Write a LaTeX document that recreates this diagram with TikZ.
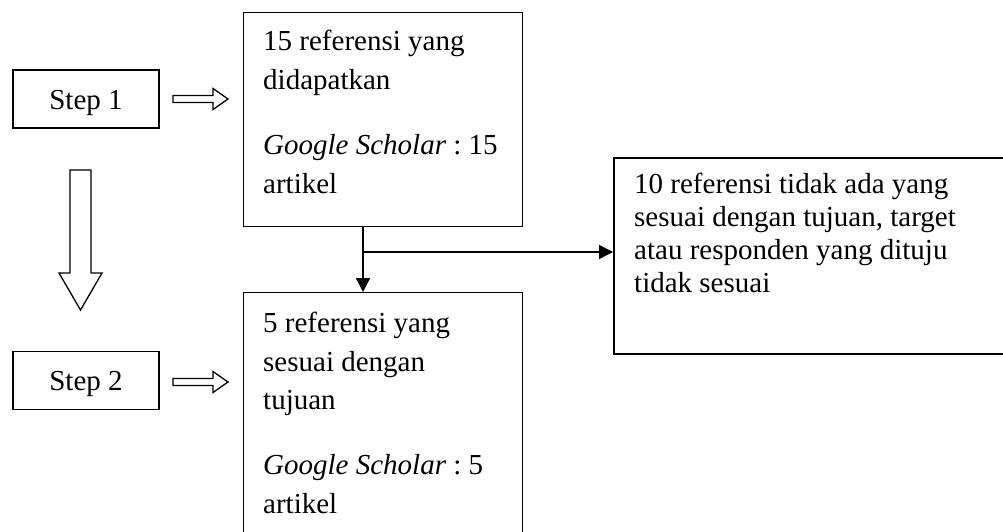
\documentclass[tikz,border=0pt]{standalone}
\usepackage{fontspec}
\setmainfont{Liberation Serif}
\usetikzlibrary{arrows.meta}
\frenchspacing
\begin{document}
\begin{tikzpicture}[x=1pt,y=-1pt,
  box/.style={draw, line width=1.3pt, inner sep=0pt, anchor=north west},
  stepbox/.style={box, minimum width=146pt, minimum height=58pt, text height=20pt, text depth=0pt, anchor=center, font=\fontsize{29}{34}\selectfont},
  txt/.style={anchor=north west, inner sep=0pt, align=left},
  conn/.style={line width=1.3pt, -{Triangle[length=14pt,width=14pt]}},
  hollow/.style={draw, line width=1.3pt, line join=miter, fill=white}]
\clip (0,0) rectangle (1003,531);
\fill[white] (0,0) rectangle (1003,531);
% step boxes
\node[stepbox] (s1) at (86,99) {Step 1};
\node[stepbox] (s2) at (86,380.5) {Step 2};
% main boxes
\node[box, minimum width=279pt, minimum height=214pt] (top) at (243,12) {};
\node[box, minimum width=279pt, minimum height=268pt] (bot) at (243,292) {};
\node[box, line width=2pt, minimum width=420pt, minimum height=196pt] (right) at (613,157) {};
% texts
\node[txt, font=\fontsize{29}{38.5}\selectfont] (ttop) at (263,30)
  {\rule{0pt}{20pt}15 referensi yang\\didapatkan\\[27pt]\textit{Google Scholar} : 15\\artikel};
\node[txt, font=\fontsize{29}{38.5}\selectfont] (tbot) at (263,312)
  {\rule{0pt}{20pt}5 referensi yang\\sesuai dengan\\tujuan\\[26.5pt]\textit{Google Scholar} : 5\\artikel};
\node[txt, font=\fontsize{29}{33}\selectfont] (tright) at (634,173)
  {\rule{0pt}{20pt}10 referensi tidak ada yang\\sesuai dengan tujuan, target\\atau responden yang dituju\\tidak sesuai};
% connectors
\coordinate (j) at (363,252);
\draw[conn] (top.south -| j) -- (bot.north -| j);
\draw[conn] (j) -- (right.west |- j);
% hollow block arrows
\draw[hollow] (173,95.5) -- (213,95.5) -- (213,88.5) -- (228,99) -- (213,109.5) -- (213,102.5) -- (173,102.5) -- cycle;
\draw[hollow] (173,378.5) -- (213,378.5) -- (213,371.5) -- (228,382) -- (213,392.5) -- (213,385.5) -- (173,385.5) -- cycle;
\draw[hollow] (70,170) -- (91,170) -- (91,273) -- (102,273) -- (80.5,310) -- (59,273) -- (70,273) -- cycle;
\end{tikzpicture}
\end{document}
